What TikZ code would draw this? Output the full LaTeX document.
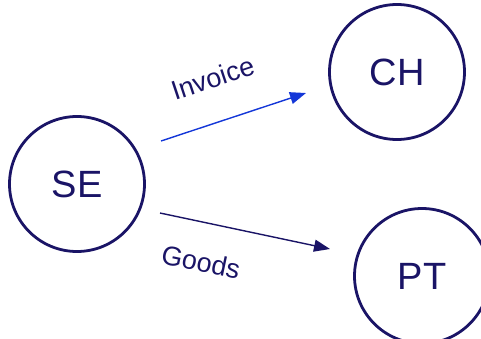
\documentclass[tikz,border=0pt]{standalone}
\usepackage{fontspec}
\setmainfont{Liberation Sans}
\usetikzlibrary{arrows.meta}
\definecolor{navy}{HTML}{1A1466}
\definecolor{flowblue}{HTML}{1437D8}
\tikzset{
  country/.style={circle, draw=navy, line width=2.8pt, minimum size=135pt, inner sep=0pt, text=navy, font=\fontsize{38}{40}\selectfont},
  flow/.style={line width=1.4pt, -{Triangle[length=16pt,width=12pt]}},
  flowlabel/.style={text=navy, inner sep=1pt, font=\fontsize{27}{29}\selectfont}
}
\begin{document}
\begin{tikzpicture}[x=1pt, y=-1pt, line join=round]
  \useasboundingbox (0,0) rectangle (481,338);
  \node[country] (SE) at (77,184) {SE};
  \node[country] (CH) at (397,72) {CH};
  \node[country] (PT) at (422,276) {PT};
  % flows out of SE
  \coordinate (inv-s) at (161,141);
  \coordinate (inv-e) at (306,93);
  \coordinate (gds-s) at (160,213);
  \coordinate (gds-e) at (330,249);
  \draw[flow, draw=flowblue, fill=flowblue] (inv-s) -- (inv-e);
  \draw[flow, draw=navy, fill=navy] (gds-s) -- (gds-e);
  \node[flowlabel, rotate=18.4] at (213,78) {Invoice};
  \node[flowlabel, rotate=-12] at (201,262) {Goods};
\end{tikzpicture}
\end{document}
